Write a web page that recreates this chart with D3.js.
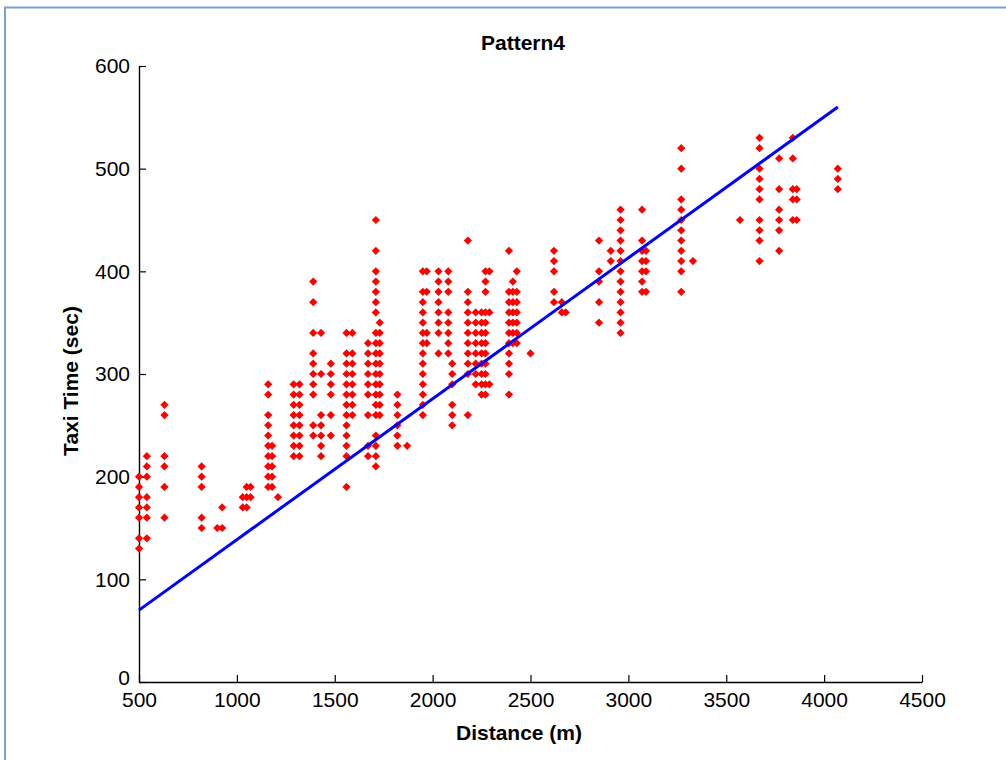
<!DOCTYPE html>
<html>
<head>
<meta charset="utf-8">
<script src="https://cdn.jsdelivr.net/npm/d3@7"></script>
<style>
  body { margin: 0; background: #fff; }
  text { font-family: "Liberation Sans", Arial, sans-serif; fill: #000; }
</style>
</head>
<body>
<div id="chart"></div>
<script>
// distance columns (m) and the taxi times (sec) found at each
const distances = [500, 540, 630, 820, 900, 925, 1030, 1050, 1070, 1160, 1180, 1210, 1290, 1320,
    1390, 1430, 1480, 1560, 1590, 1670, 1710, 1730, 1820, 1870, 1950, 1970, 2030, 2080, 2100,
    2180, 2220, 2250, 2270, 2290, 2390, 2410, 2430, 2500, 2620, 2660, 2680, 2850, 2910, 2960,
    3070, 3090, 3270, 3330, 3570, 3670, 3770, 3840, 3860, 4070];

const taxiTimes = [
    [200,190,180,170,160,140,130],
    [220,210,200,180,170,160,140],
    [270,260,220,210,190,160],
    [210,200,190,160,150],
    [150],
    [170,150],
    [180,170],
    [190,180,170],
    [190,180],
    [290,280,260,250,240,230,220,210,200,190],
    [230,220,210,200,190],
    [180],
    [290,280,270,260,250,240,230,220],
    [290,280,270,260,250,240,230,220],
    [390,370,340,320,310,300,290,280,250,240],
    [340,300,260,250,240,230,220],
    [310,300,290,280,260,240],
    [340,320,310,300,290,280,270,260,250,240,230,220,190],
    [340,320,310,300,290,280,270,260],
    [330,320,310,300,290,280,260,230,220],
    [450,420,400,390,380,370,360,340,330,320,310,300,290,280,270,260,240,230,220,210],
    [350,340,330,320,310,300,290,280,270,260],
    [280,270,260,250,240,230],
    [230],
    [400,380,370,360,350,340,330,320,310,300,290,280,270,260],
    [400,380,340,330],
    [400,390,380,370,360,350,340,320],
    [400,390,380,360,350,340,330,320],
    [310,300,290,270,260,250],
    [430,380,370,360,350,340,330,320,310,300,260],
    [360,350,340,330,320,310,300,290],
    [360,350,340,330,320,310,300,290,280],
    [400,390,380,360,350,340,330,320,310,300,290,280],
    [400,360,290],
    [420,380,370,360,350,340,330,320,310,300,280],
    [390,380,370,360,350,340,330],
    [400,380,370,360,350,340,330],
    [320],
    [420,410,400,380,370],
    [370,360],
    [360],
    [430,400,390,370,350],
    [420,410],
    [460,450,440,430,420,410,400,390,380,370,360,350,340],
    [460,430,420,410,400,390,380],
    [420,410,400,380],
    [520,500,470,460,450,440,430,420,410,400,380],
    [410],
    [450],
    [530,520,500,490,480,470,450,440,430,410],
    [510,480,460,450,440,420],
    [530,510,480,470,450],
    [480,470,450],
    [500,490,480]
];

// fitted line ends
const fitX = [500, 4070];
const fitY = [70, 560];

const xTicks = [500, 1000, 1500, 2000, 2500, 3000, 3500, 4000, 4500];
const yTicks = [0, 100, 200, 300, 400, 500, 600];

const width = 1006;
const height = 760;
const plot = {left: 139, right: 922, top: 66, bottom: 682};

const points = [];
distances.forEach((d, i) => {
    taxiTimes[i].forEach(t => points.push({dist: d, time: t}));
});

const svg = d3.select('#chart')
    .append('svg')
        .attr('width', width)
        .attr('height', height);

// window frame
svg.append('rect')
    .attr('x', 5).attr('y', 7.5)
    .attr('width', width + 10).attr('height', height + 10)
    .attr('fill', 'none')
    .attr('stroke', '#7a9ed6')
    .attr('stroke-width', 2);

const x = d3.scaleLinear().domain([500, 4500]).range([plot.left, plot.right]);
const y = d3.scaleLinear().domain([0, 600]).range([plot.bottom, plot.top]);

const xAxis = svg.append('g')
    .attr('transform', `translate(0, ${plot.bottom})`)
    .call(d3.axisBottom(x).tickValues(xTicks).tickFormat(d3.format('d'))
        .tickSizeInner(-7).tickSizeOuter(0).tickPadding(12));

const yAxis = svg.append('g')
    .attr('transform', `translate(${plot.left}, 0)`)
    .call(d3.axisLeft(y).tickValues(yTicks).tickFormat(d3.format('d'))
        .tickSizeInner(-7).tickSizeOuter(0).tickPadding(9));

[xAxis, yAxis].forEach(g => {
    g.select('.domain').attr('stroke', '#000').attr('stroke-width', 1.4);
    g.selectAll('.tick line').attr('stroke', '#000').attr('stroke-width', 1.2);
    g.selectAll('.tick text')
        .attr('font-family', '"Liberation Sans", Arial, sans-serif')
        .attr('font-size', 21)
        .attr('fill', '#000');
});
xAxis.selectAll('.tick text').attr('dy', '0.62em');
yAxis.selectAll('.tick text').filter(d => d === 0).attr('dy', '0.1em');

// scatter
svg.append('g')
    .selectAll('path')
    .data(points)
    .join('path')
        .attr('d', d3.symbol(d3.symbolSquare, 34))
        .attr('transform', d => `translate(${x(d.dist)}, ${y(d.time)}) rotate(45)`)
        .attr('fill', '#ff0000');

// fitted line
svg.append('line')
    .attr('x1', x(fitX[0])).attr('y1', y(fitY[0]))
    .attr('x2', x(fitX[1])).attr('y2', y(fitY[1]))
    .attr('stroke', '#0000ff')
    .attr('stroke-width', 3);

svg.append('text')
    .attr('x', 523).attr('y', 50)
    .attr('text-anchor', 'middle')
    .attr('font-size', 21)
    .attr('font-weight', 'bold')
    .text('Pattern4');

svg.append('text')
    .attr('x', 519).attr('y', 740)
    .attr('text-anchor', 'middle')
    .attr('font-size', 21)
    .attr('font-weight', 'bold')
    .text('Distance (m)');

svg.append('text')
    .attr('transform', 'translate(78, 381) rotate(-90)')
    .attr('text-anchor', 'middle')
    .attr('font-size', 21)
    .attr('font-weight', 'bold')
    .text('Taxi Time (sec)');
</script>
</body>
</html>
